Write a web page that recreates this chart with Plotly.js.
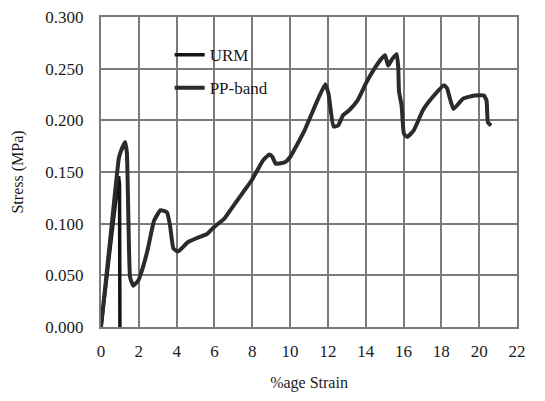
<!DOCTYPE html>
<html>
<head>
<meta charset="utf-8">
<script src="https://cdn.plot.ly/plotly-3.0.1.min.js"></script>
<style>html,body{margin:0;padding:0;background:#fff;}#chart{width:545px;height:401px;}</style>
</head>
<body>
<div id="chart"></div>
<script>
// URM series (% strain, stress MPa)
var urmStrain = [0, 0.3, 0.6, 0.85, 0.93, 0.98, 1.0, 1.0];
var urmStress = [0, 0.046, 0.094, 0.136, 0.146, 0.138, 0.07, 0];

// PP-band series
var ppStrain = [0, 0.5, 0.94, 1.03, 1.28, 1.37, 1.45, 1.54, 1.71, 1.97, 2.22, 2.47, 2.81, 3.15, 3.49, 3.66, 3.83, 4.08, 4.59, 5.19, 5.61, 6.0, 6.53, 7.03, 7.54, 7.97, 8.31, 8.56, 8.9, 9.07, 9.24, 9.75, 10.0, 10.76, 11.44, 11.86, 12.03, 12.3, 12.54, 12.8, 13.14, 13.56, 14.03, 14.46, 14.8, 15.02, 15.19, 15.39, 15.64, 15.72, 15.76, 15.9, 16.02, 16.19, 16.53, 17.03, 17.54, 18.14, 18.3, 18.64, 19.15, 19.75, 20.25, 20.39, 20.46, 20.63];
var ppStress = [0, 0.087, 0.163, 0.169, 0.179, 0.168, 0.103, 0.048, 0.040, 0.045, 0.058, 0.075, 0.103, 0.113, 0.111, 0.097, 0.076, 0.073, 0.082, 0.087, 0.090, 0.097, 0.105, 0.118, 0.131, 0.142, 0.153, 0.161, 0.167, 0.1645, 0.158, 0.1597, 0.1645, 0.190, 0.219, 0.235, 0.226, 0.194, 0.195, 0.205, 0.210, 0.219, 0.2365, 0.250, 0.259, 0.263, 0.253, 0.259, 0.264, 0.251, 0.228, 0.214, 0.187, 0.184, 0.190, 0.210, 0.2225, 0.234, 0.231, 0.211, 0.221, 0.224, 0.224, 0.219, 0.198, 0.195];

var xTicks = [0, 2, 4, 6, 8, 10, 12, 14, 16, 18, 20, 22];
var yTicks = [0, 0.05, 0.10, 0.15, 0.20, 0.25, 0.30];

var font = "'Liberation Serif', serif";

var traces = [
  {x: urmStrain, y: urmStress, type: 'scatter', mode: 'lines', name: 'URM',
   legendgroup: 'a', line: {color: '#141414', width: 3.5}},
  {x: ppStrain, y: ppStress, type: 'scatter', mode: 'lines', name: 'PP-band',
   legendgroup: 'b', line: {color: '#2b2b2b', width: 4, shape: 'spline', smoothing: 0.4}}
];

var layout = {
  width: 545, height: 401,
  margin: {l: 101, r: 28, t: 17, b: 74},
  paper_bgcolor: '#fff', plot_bgcolor: '#fff',
  font: {family: font, size: 16, color: '#1a1a1a'},
  showlegend: true,
  legend: {x: 0.165, y: 0.935, xanchor: 'left', yanchor: 'top', bgcolor: 'rgba(0,0,0,0)',
           borderwidth: 0, font: {family: font, size: 17, color: '#1a1a1a'},
           tracegroupgap: 8, traceorder: 'grouped'},
  xaxis: {range: [0, 22], tickvals: xTicks, ticktext: xTicks.map(String),
          showgrid: true, gridcolor: '#7a7a7a', gridwidth: 2,
          showline: true, mirror: true, linecolor: '#7a7a7a', linewidth: 2,
          zeroline: false, ticks: '', ticklabelstandoff: 8,
          tickfont: {family: font, size: 17},
          title: {text: '%age Strain', font: {family: font, size: 16}, standoff: 16}},
  yaxis: {range: [0, 0.3], tickvals: yTicks, ticktext: yTicks.map(function(v){return v.toFixed(3);}),
          showgrid: true, gridcolor: '#7a7a7a', gridwidth: 2,
          showline: true, mirror: true, linecolor: '#7a7a7a', linewidth: 2,
          zeroline: false, ticks: '', ticklabelstandoff: 12,
          tickfont: {family: font, size: 17},
          title: {text: 'Stress (MPa)', font: {family: font, size: 16}, standoff: 18}}
};

Plotly.newPlot('chart', traces, layout, {displayModeBar: false, staticPlot: true});
</script>
</body>
</html>
